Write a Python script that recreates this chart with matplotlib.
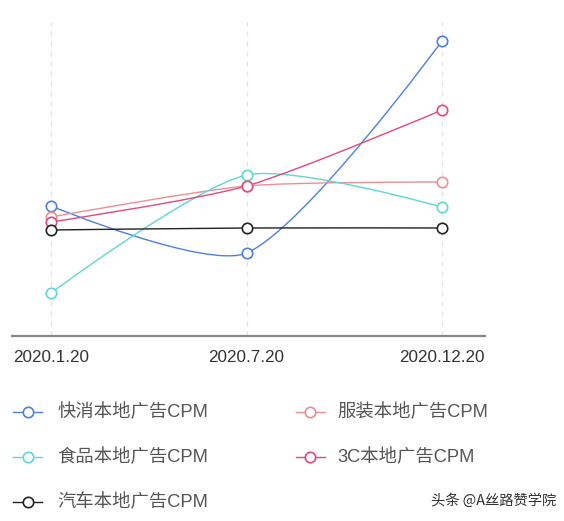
import matplotlib
matplotlib.use('Agg')
import matplotlib.pyplot as plt
import numpy as np
from matplotlib.path import Path
from matplotlib.patches import PathPatch
from matplotlib.lines import Line2D

plt.rcParams['font.family'] = ['Liberation Sans', 'Noto Sans CJK SC', 'DejaVu Sans']

# data
dates = ['2020.1.20', '2020.7.20', '2020.12.20']
names = ['快消本地广告CPM', '服装本地广告CPM', '食品本地广告CPM', '3C本地广告CPM', '汽车本地广告CPM']
fmcg = [13.0, 8.3, 29.5]
clothing = [11.9, 15.0, 15.4]
food = [4.3, 16.1, 12.9]
tech_3c = [11.4, 15.0, 22.6]
auto = [10.6, 10.8, 10.8]
series = [fmcg, clothing, food, tech_3c, auto]
colors = ['#4f80e0', '#ec8f92', '#5dd8d4', '#e2497c', '#222222']


def smooth_path(ax, xs, ys, smooth=0.25):
    # echarts-like bezier smoothing, done in display space
    pts = ax.transData.transform(np.column_stack([xs, ys]))
    n = len(pts)
    verts = [pts[0]]
    codes = [Path.MOVETO]
    out_cp = []
    in_cp = []
    for i in range(n):
        p = pts[i]
        if i == 0 or i == n - 1:
            out_cp.append(p)
            in_cp.append(p)
            continue
        prev, nxt = pts[i - 1], pts[i + 1]
        v = (nxt - prev) * smooth
        d0 = np.hypot(*(p - prev))
        d1 = np.hypot(*(nxt - p))
        r = d1 / (d0 + d1)
        out_cp.append(p + v * r)
        in_cp.append(p - v * (1 - r))
    for i in range(n - 1):
        verts += [out_cp[i], in_cp[i + 1], pts[i + 1]]
        codes += [Path.CURVE4] * 3
    verts = ax.transData.inverted().transform(np.array(verts))
    return Path(verts, codes)


fig = plt.figure(figsize=(5.64, 5.21), dpi=100)
ax = fig.add_axes([12 / 564, 185 / 521, 473 / 564, 314 / 521])
ax.set_xlim(-0.2, 2.22)
ax.set_ylim(0, 31.4)
x = np.arange(len(dates))

for xi in x:
    ax.axvline(xi, color='#e3e3e3', lw=0.9, ls=(0, (4, 4)), zorder=0)

for vals, c in zip(series, colors):
    path = smooth_path(ax, x, vals)
    ax.add_patch(PathPatch(path, fill=False, edgecolor=c, lw=1.0, zorder=2))
    ax.plot(x, vals, ls='none', marker='o', ms=7.5, mfc='white', mec=c, mew=1.2, zorder=3)

for s in ['top', 'right', 'left']:
    ax.spines[s].set_visible(False)
ax.spines['bottom'].set_color('#888888')
ax.spines['bottom'].set_linewidth(1.6)
ax.set_yticks([])
ax.set_xticks(x)
ax.set_xticklabels(dates, fontsize=12.3, color='#333333')
ax.tick_params(axis='x', length=0, pad=10)

# legend
rows = [412, 457, 502]
cols = [(13, 42, 57), (296, 325, 337)]
for i, (name, c) in enumerate(zip(names, colors)):
    r, col = divmod(i, 2)
    x0, x1, tx = cols[col]
    yf = 1 - rows[r] / 521
    fig.add_artist(Line2D([x0 / 564, x1 / 564], [yf, yf], color=c, lw=1.0,
                          transform=fig.transFigure))
    fig.add_artist(Line2D([(x0 + x1) / 2 / 564], [yf], marker='o', ms=7.5, mfc='white',
                          mec=c, mew=1.2, transform=fig.transFigure))
    fig.text(tx / 564, yf, name, fontsize=13.2, color='#555555', va='center', ha='left')

fig.text(556 / 564, 1 - 501 / 521, '头条 @A丝路赞学院', fontsize=10.3, color='#333333',
         va='center', ha='right', family=['Noto Sans CJK SC', 'DejaVu Sans'])

fig.savefig('out.png', dpi=100)
